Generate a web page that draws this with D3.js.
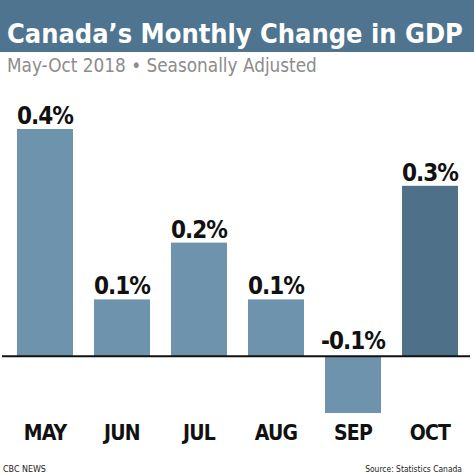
<!DOCTYPE html>
<html><head><meta charset="utf-8">
<script src="https://cdn.jsdelivr.net/npm/d3@7"></script>
<style>html,body{margin:0;padding:0;background:#fff;}svg{display:block;}</style>
</head><body>
<script>
const months = ["MAY","JUN","JUL","AUG","SEP","OCT"];
const values = [0.4, 0.1, 0.2, 0.1, -0.1, 0.3];
const valueLabels = ["0.4%","0.1%","0.2%","0.1%","-0.1%","0.3%"];
const highlight = ["OCT"];
const title = "Canada\u2019s Monthly Change in GDP";
const subtitle = "May-Oct 2018 \u2022 Seasonally Adjusted";
const footLeft = "CBC NEWS";
const footRight = "Source: Statistics Canada";

const W = 474, H = 474;
const font = "'DejaVu Sans Condensed','DejaVu Sans',sans-serif";
const svg = d3.select("body").append("svg").attr("width", W).attr("height", H);

// size a text so its natural width equals target
function fit(sel, size, target) {
  sel.attr("font-size", size);
  const L = sel.node().getComputedTextLength();
  sel.attr("font-size", Math.min(size * 1.2, size * target / L));
  return sel;
}

svg.append("rect").attr("x",0).attr("y",0).attr("width",W).attr("height",52).attr("fill","#4e7490");
fit(svg.append("text").attr("x",7).attr("y",43).text(title)
  .attr("font-family",font).attr("font-weight","bold").attr("fill","#fff"), 29, 456);
fit(svg.append("text").attr("x",7).attr("y",72).text(subtitle)
  .attr("font-family",font).attr("fill","#8c8c8c"), 19, 310);

const x = d3.scaleBand().domain(months).range([6.5, 468.5]).paddingInner(0.273).paddingOuter(0.1365);
const y = d3.scaleLinear().domain([-0.1, 0.4]).range([413, 129]);

svg.selectAll("rect.bar").data(months).enter().append("rect").attr("class","bar")
  .attr("x", d => x(d)).attr("width", x.bandwidth())
  .attr("y", (d,i) => y(Math.max(0, values[i])))
  .attr("height", (d,i) => Math.abs(y(values[i]) - y(0)))
  .attr("fill", d => highlight.includes(d) ? "#4e7189" : "#6e93ac");

svg.append("line").attr("x1",2).attr("x2",470).attr("y1",y(0)).attr("y2",y(0))
  .attr("stroke","#111").attr("stroke-width",2);

svg.selectAll("text.val").data(months).enter().append("text").attr("class","val")
  .attr("x", d => x(d) + x.bandwidth()/2)
  .attr("y", (d,i) => values[i] >= 0 ? y(values[i]) - 5 : y(0) - 7)
  .attr("text-anchor","middle").attr("font-family",font).attr("font-weight","bold")
  .attr("font-size",24).attr("letter-spacing",-1).attr("fill","#111").text((d,i) => valueLabels[i]);

const xAxis = d3.axisBottom(x).tickSize(0).tickPadding(0);
const gx = svg.append("g").attr("transform","translate(0,440)").call(xAxis);
gx.select(".domain").remove();
gx.selectAll("text").attr("dy",0).attr("font-family",font).attr("font-weight","bold")
  .attr("font-size",21).attr("letter-spacing",-0.8).attr("fill","#111");

fit(svg.append("text").attr("x",3).attr("y",472).text(footLeft)
  .attr("font-family",font).attr("fill","#222"), 10, 43);
fit(svg.append("text").attr("x",462).attr("y",472).attr("text-anchor","end").text(footRight)
  .attr("font-family",font).attr("fill","#222"), 10, 97);
</script>
</body></html>
